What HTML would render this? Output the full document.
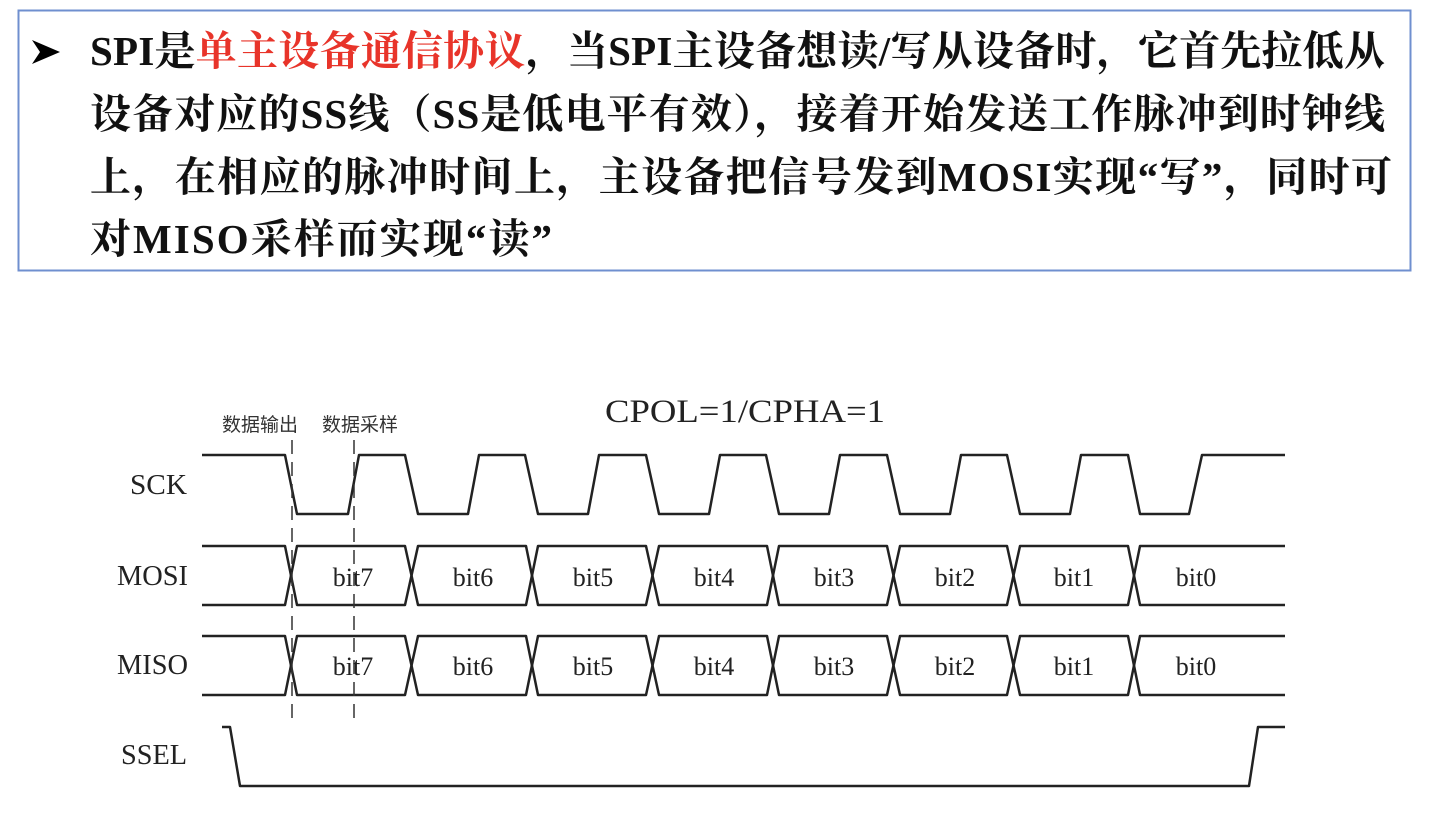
<!DOCTYPE html>
<html><head><meta charset="utf-8"><style>
html,body{margin:0;padding:0;background:#fff;width:1444px;height:818px;overflow:hidden}
</style></head><body>
<svg width="1444" height="818" xmlns="http://www.w3.org/2000/svg">
<rect x="18.5" y="10.5" width="1392" height="260" fill="none" stroke="#6f8fcf" stroke-width="2"/>
<path d="M32 40 L60 52 L32 64 L40 52 Z" fill="#000"/>
<g font-family="'Liberation Serif','Noto Serif CJK SC',serif" font-size="41" font-weight="bold" fill="#111">
<text x="90" y="65" textLength="1295" lengthAdjust="spacing">SPI是<tspan fill="#e8342a">单主设备通信协议</tspan>，当SPI主设备想读/写从设备时，它首先拉低从</text>
<text x="90" y="128" textLength="1295" lengthAdjust="spacing">设备对应的SS线（SS是低电平有效），接着开始发送工作脉冲到时钟线</text>
<text x="90" y="191" textLength="1302" lengthAdjust="spacing">上，在相应的脉冲时间上，主设备把信号发到MOSI实现“写”，同时可</text>
<text x="90" y="253" textLength="462" lengthAdjust="spacing">对MISO采样而实现“读”</text>
</g>
<g font-family="'Liberation Serif',serif" fill="#222">
<text x="605" y="422" font-size="33" textLength="280" lengthAdjust="spacingAndGlyphs">CPOL=1/CPHA=1</text>
<text x="130" y="494" font-size="28" textLength="57" lengthAdjust="spacingAndGlyphs">SCK</text>
<text x="117" y="585" font-size="28" textLength="71" lengthAdjust="spacingAndGlyphs">MOSI</text>
<text x="117" y="674" font-size="28" textLength="71" lengthAdjust="spacingAndGlyphs">MISO</text>
<text x="121" y="764" font-size="28" textLength="66" lengthAdjust="spacingAndGlyphs">SSEL</text>
</g>
<g font-family="'Noto Sans CJK SC',sans-serif" font-size="19" fill="#333">
<text x="222" y="431">数据输出</text>
<text x="322" y="431">数据采样</text>
</g>
<g stroke="#222" stroke-width="2.5" fill="none" stroke-linejoin="round">
<path d="M202 455 H285 L297 514 H348 L359 455 H405 L418 514 H468 L479 455 H525 L538 514 H588 L599 455 H646 L659 514 H709 L720 455 H766 L779 514 H829 L840 455 H887 L900 514 H950 L961 455 H1007 L1020 514 H1070 L1081 455 H1128 L1140 514 H1189 L1202 455 H1285"/>
<path d="M202 546 H285 L297 605 H405 L418 546 H526 L538 605 H646 L659 546 H767 L779 605 H887 L900 546 H1007 L1020 605 H1128 L1140 546 H1285"/>
<path d="M202 605 H285 L297 546 H405 L418 605 H526 L538 546 H646 L659 605 H767 L779 546 H887 L900 605 H1007 L1020 546 H1128 L1140 605 H1285"/>
<path d="M202 636 H285 L297 695 H405 L418 636 H526 L538 695 H646 L659 636 H767 L779 695 H887 L900 636 H1007 L1020 695 H1128 L1140 636 H1285"/>
<path d="M202 695 H285 L297 636 H405 L418 695 H526 L538 636 H646 L659 695 H767 L779 636 H887 L900 695 H1007 L1020 636 H1128 L1140 695 H1285"/>
<path d="M222 727 H230 L240 786 H1249 L1258 727 H1285"/>
</g>
<g stroke="#333" stroke-width="1.5" stroke-dasharray="14,8">
<line x1="292" y1="440" x2="292" y2="725"/>
<line x1="354" y1="440" x2="354" y2="725"/>
</g>
<g font-family="'Liberation Serif',serif" font-size="26" fill="#222" text-anchor="middle">
<text x="353" y="586">bit7</text><text x="473" y="586">bit6</text><text x="593" y="586">bit5</text><text x="714" y="586">bit4</text><text x="834" y="586">bit3</text><text x="955" y="586">bit2</text><text x="1074" y="586">bit1</text><text x="1196" y="586">bit0</text>
<text x="353" y="675">bit7</text><text x="473" y="675">bit6</text><text x="593" y="675">bit5</text><text x="714" y="675">bit4</text><text x="834" y="675">bit3</text><text x="955" y="675">bit2</text><text x="1074" y="675">bit1</text><text x="1196" y="675">bit0</text>
</g>
</svg>
</body></html>
